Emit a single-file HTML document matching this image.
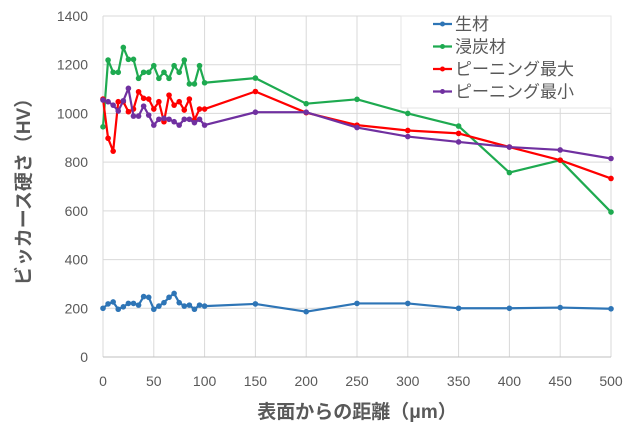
<!DOCTYPE html>
<html><head><meta charset="utf-8">
<style>
html,body{margin:0;padding:0;background:#fff;}
svg text{font-family:"Liberation Sans","Noto Sans CJK JP",sans-serif;}
</style></head>
<body>
<svg id="chart" width="635" height="427" viewBox="0 0 635 427" xmlns="http://www.w3.org/2000/svg">
<g id="grid"></g>
<g id="axes"></g>
<g id="series"></g>
<text transform="translate(30,187) rotate(-90)" text-anchor="middle" font-size="19" font-weight="bold" fill="#595959">ビッカース硬さ（HV）</text>
<text x="357" y="418" text-anchor="middle" font-size="19" font-weight="bold" fill="#595959">表面からの距離（μm）</text>
<g id="legend"></g>
</svg>
<script>
const fine = [0,5,10,15,20,25,30,35,40,45,50,55,60,65,70,75,80,85,90,95,100];
const coarse = [150,200,250,300,350,400,450,500];
const xDist = fine.concat(coarse);
const seriesNames = ["生材","浸炭材","ピーニング最大","ピーニング最小"];
const seriesColors = ["#2e75b6","#1eaa50","#ff0000","#7030a0"];
const rawVals = [200,218,226,196,206,220,220,213,248,245,196,209,223,245,261,223,209,213,196,213,209, 218,186,220,220,200,200,203,198];
const carbVals = [945,1219,1169,1169,1271,1222,1222,1144,1169,1169,1196,1144,1169,1144,1196,1169,1219,1121,1121,1196,1126, 1145,1040,1058,1000,948,757,808,595];
const peenMaxVals = [1059,898,845,1048,1048,1007,1018,1089,1062,1059,1018,1048,966,1075,1034,1048,1014,1059,973,1018,1018, 1090,1003,952,930,918,862,808,733];
const peenMinVals = [1055,1048,1034,1010,1052,1103,989,989,1030,993,952,976,980,976,966,952,976,976,962,976,952, 1005,1005,942,905,883,862,850,815];
const xTicks = [0,50,100,150,200,250,300,350,400,450,500];
const yTicks = [0,200,400,600,800,1000,1200,1400];

const NS="http://www.w3.org/2000/svg";
const X0=103, X1=611, Y0=357, Y1=16;
const sx = v => X0 + (v/500)*(X1-X0);
const sy = v => Y0 - (v/1400)*(Y0-Y1);
function mk(tag, attrs, parent){const e=document.createElementNS(NS,tag);for(const k in attrs)e.setAttribute(k,attrs[k]);parent.appendChild(e);return e;}
const grid=document.getElementById('grid'), axes=document.getElementById('axes'), ser=document.getElementById('series'), leg=document.getElementById('legend');

yTicks.forEach(t=>{
  if(t>0){const l=mk('line',{x1:X0,x2:X1,y1:sy(t),y2:sy(t),stroke:'#d9d9d9','stroke-width':1},grid);
  
  }
  const tx=mk('text',{x:88,y:sy(t)+5,'text-anchor':'end','font-size':14,fill:'#595959'},axes);
  tx.textContent=t;
  
  
});
xTicks.forEach(t=>{
  const l=mk('line',{x1:sx(t),x2:sx(t),y1:Y1,y2:Y0,stroke:'#d9d9d9','stroke-width':1},grid);
  
  
  const tx=mk('text',{x:sx(t),y:386,'text-anchor':'middle','font-size':14,fill:'#595959'},axes);
  tx.textContent=t;
  
  
});
const ax=mk('line',{x1:X0,x2:X1,y1:Y0,y2:Y0,stroke:'#bfbfbf','stroke-width':1},axes);



const allVals=[rawVals,carbVals,peenMaxVals,peenMinVals];
allVals.forEach((vals,i)=>{
  const g=mk('g',{},ser);
  
  
  const pts=vals.map((v,j)=>sx(xDist[j])+','+sy(v)).join(' ');
  const pl=mk('polyline',{points:pts,fill:'none',stroke:seriesColors[i],'stroke-width':2.2,'stroke-linejoin':'round'},g);
  
  
  vals.forEach((v,j)=>{
    const c=mk('circle',{cx:sx(xDist[j]),cy:sy(v),r:2.8,fill:seriesColors[i]},g);
    
    
  });
});

const bg=mk('rect',{x:401,y:16,width:210,height:92,fill:'#fff',stroke:'#e6e6e6','stroke-width':1},leg);


seriesNames.forEach((n,i)=>{
  const y=24+i*22.5;
  const g=mk('g',{},leg);
  
  
  mk('line',{x1:433,x2:452,y1:y,y2:y,stroke:seriesColors[i],'stroke-width':2.2},g);
  mk('circle',{cx:442.5,cy:y,r:2.5,fill:seriesColors[i]},g);
  const t=mk('text',{x:455,y:y+6,'font-size':17,fill:'#595959'},g);
  t.textContent=n;
});
</script>
</body></html>
